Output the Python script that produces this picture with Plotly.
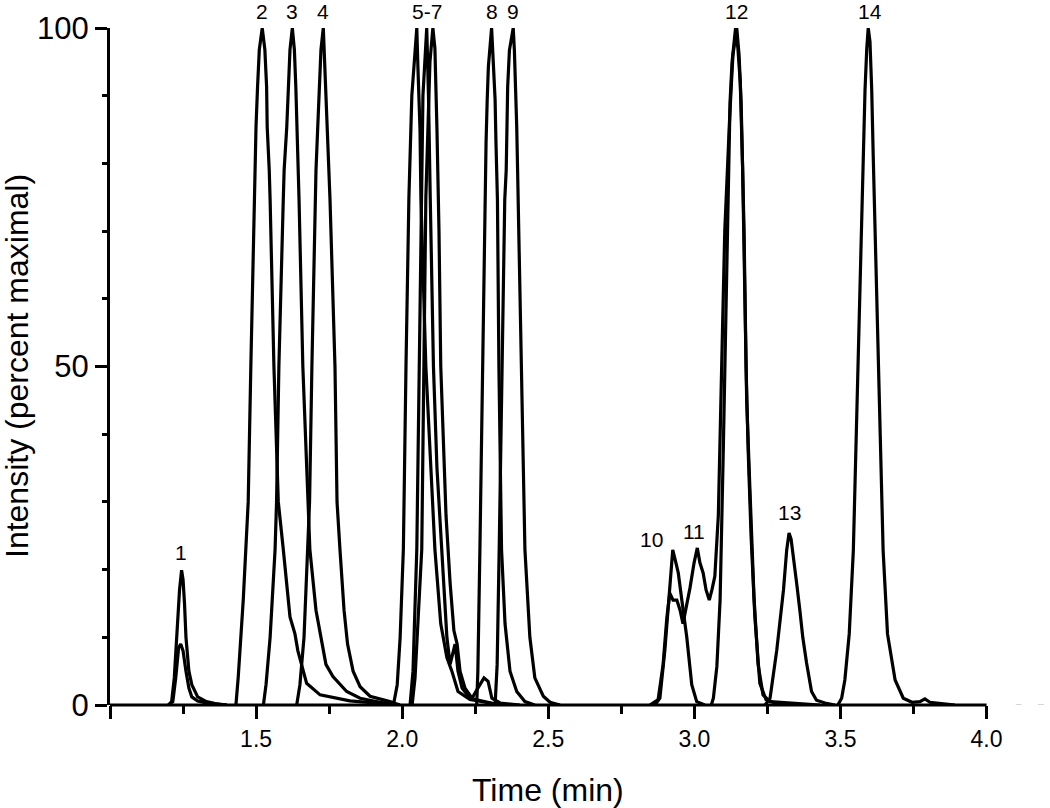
"""
overlaid extracted-ion chromatograms, peaks 1-14
"""
import plotly.graph_objects as go

# retention time (min) / intensity (percent maximal)
t_1a = [1.20, 1.211, 1.22, 1.228, 1.238, 1.245, 1.25, 1.255, 1.26, 1.27, 1.28, 1.30, 1.33, 1.36, 1.40]
i_1a = [0, 0.5, 4, 10.6, 17, 19.9, 18.5, 15, 10, 5, 3, 1.2, 0.5, 0.2, 0]
t_1b = [1.20, 1.215, 1.225, 1.235, 1.242, 1.25, 1.26, 1.27, 1.28, 1.30, 1.34, 1.40]
i_1b = [0, 0.5, 4, 8.5, 9, 8, 5, 2.5, 1.2, 0.6, 0.2, 0]

t_2 = [1.431, 1.439, 1.456, 1.473, 1.482, 1.493, 1.4997, 1.505, 1.511, 1.521,
       1.530, 1.536, 1.538, 1.545, 1.548, 1.561, 1.576, 1.593, 1.616, 1.633,
       1.643, 1.673, 1.719, 1.821, 1.924, 1.99]
i_2 = [0, 4.2, 15.5, 30, 50, 74.6, 85.4, 91.3, 96.8, 100,
       96.8, 91.3, 85.4, 79, 74.6, 50, 30, 23, 13, 10.5,
       8, 3.2, 1.5, 0.6, 0.2, 0]

t_3 = [1.525, 1.534, 1.548, 1.565, 1.570, 1.578, 1.593, 1.596, 1.605, 1.610, 1.616, 1.624,
       1.631, 1.636, 1.639, 1.644, 1.647, 1.660, 1.679, 1.684, 1.705, 1.724, 1.739,
       1.763, 1.810, 1.856, 1.924, 1.992]
i_3 = [0, 3, 10, 23, 30, 50, 74.6, 79, 85.4, 91.3, 96.8, 100,
       96.8, 91.3, 85.4, 79, 74.6, 50, 30, 23, 14, 9.6, 6,
       4.2, 2, 1, 0.4, 0]

t_4 = [1.639, 1.650, 1.664, 1.678, 1.683, 1.691, 1.702, 1.705, 1.711, 1.716, 1.722, 1.730,
       1.733, 1.739, 1.743, 1.749, 1.753, 1.770, 1.777, 1.787, 1.801, 1.813, 1.832,
       1.856, 1.890, 1.958, 1.992]
i_4 = [0, 3, 10, 23, 30, 50, 74.6, 79, 85.4, 91.3, 96.8, 100,
       96.8, 91.3, 85.4, 79, 74.6, 50, 30, 23, 14, 9, 5,
       2.7, 1.3, 0.5, 0]

t_5 = [1.970, 1.983, 1.993, 2.004, 2.013, 2.023, 2.033, 2.050, 2.054, 2.061,
       2.064, 2.081, 2.112, 2.132, 2.153, 2.170, 2.191, 2.232, 2.300, 2.335]
i_5 = [0, 3, 10, 23, 50, 75, 90, 100, 94, 85,
       75, 50, 23, 12, 7, 5, 2, 0.8, 0.3, 0]

t_6 = [2.027, 2.037, 2.050, 2.058, 2.064, 2.071, 2.084, 2.090, 2.096, 2.107,
       2.119, 2.136, 2.153, 2.164, 2.181, 2.191, 2.205, 2.232, 2.283, 2.335]
i_6 = [0, 5, 23, 50, 75, 90, 100, 90, 75, 50,
       35, 23, 10, 6, 9, 5, 2.5, 1, 0.5, 0]

t_7 = [2.034, 2.044, 2.067, 2.075, 2.081, 2.088, 2.095, 2.105, 2.112, 2.119, 2.126,
       2.132, 2.150, 2.164, 2.177, 2.188, 2.198, 2.215, 2.239, 2.259, 2.280,
       2.294, 2.307, 2.335, 2.403]
i_7 = [0, 4, 23, 50, 75, 85, 95, 100, 97, 85, 70,
       50, 28, 18, 11, 9, 5, 2.5, 1, 2.5, 4,
       3.5, 1, 0.3, 0]

t_8 = [2.255, 2.259, 2.266, 2.275, 2.283, 2.287, 2.291, 2.295, 2.306,
       2.312, 2.318, 2.321, 2.326, 2.331, 2.340, 2.352, 2.369, 2.392, 2.420, 2.454]
i_8 = [0, 5, 23, 50, 74.6, 83, 89.4, 94.3, 100,
       94.3, 89.4, 83, 74.6, 50, 23, 12, 5, 2, 0.5, 0]

t_9 = [2.318, 2.325, 2.332, 2.342, 2.351, 2.356, 2.358, 2.361, 2.367, 2.380,
       2.384, 2.389, 2.392, 2.395, 2.397, 2.406, 2.420, 2.437, 2.454, 2.483, 2.506, 2.540]
i_9 = [0, 6, 23, 50, 74.6, 79, 85.4, 91.3, 96.7, 100,
       96.7, 91.3, 85.4, 79, 74.6, 50, 23, 10, 4, 1.3, 0.4, 0]

t_10 = [2.865, 2.882, 2.899, 2.910, 2.916, 2.926, 2.934, 2.945, 2.957, 2.974, 2.991, 3.008, 3.036]
i_10 = [0, 1, 8.1, 14, 17, 22.9, 21.5, 19.5, 15.5, 10, 3, 0.5, 0]

# shoulder trace: 10 (minor), 11, then runs up into 12
t_11 = [2.848, 2.876, 2.893, 2.906, 2.916, 2.927, 2.940, 2.951, 2.961, 2.971, 2.985,
        2.999, 3.010, 3.019, 3.030, 3.040, 3.051, 3.060, 3.070, 3.082, 3.088, 3.096,
        3.104, 3.111, 3.120, 3.127, 3.132, 3.145, 3.153, 3.160, 3.165, 3.170, 3.177,
        3.184, 3.194, 3.207, 3.224, 3.245, 3.276, 3.327]
i_11 = [0, 0.8, 6, 13, 16.5, 15.5, 15.5, 14, 12, 14, 17.3,
        21, 23.2, 21, 19.5, 17, 15.5, 17, 19, 28, 37.7, 55,
        70, 78, 86, 92, 96, 100, 96, 89, 80, 70, 50,
        37.7, 25, 13, 3.2, 0.8, 0.3, 0]

t_12 = [3.058, 3.065, 3.077, 3.088, 3.099, 3.108, 3.116, 3.122, 3.129, 3.141,
        3.149, 3.157, 3.165, 3.170, 3.179, 3.190, 3.204, 3.218, 3.235, 3.259, 3.327, 3.430]
i_12 = [0, 1, 5.7, 15.5, 37.7, 60, 79.5, 89, 95, 100,
        97, 92, 79.5, 68, 45, 32, 16, 6, 1.5, 0.5, 0.3, 0]

t_13 = [3.242, 3.259, 3.282, 3.293, 3.305, 3.316, 3.324, 3.331, 3.339, 3.350,
        3.361, 3.371, 3.384, 3.401, 3.418, 3.447, 3.481]
i_13 = [0, 1, 8.1, 12, 17, 22.9, 25.4, 24.5, 22, 18,
        14, 10, 6.2, 2, 0.7, 0.3, 0]

t_14 = [3.491, 3.504, 3.515, 3.530, 3.544, 3.552, 3.561, 3.569, 3.576, 3.584, 3.590, 3.595,
        3.601, 3.607, 3.612, 3.620, 3.627, 3.637, 3.646, 3.661, 3.687, 3.715,
        3.745, 3.772, 3.789, 3.806, 3.858, 3.892]
i_14 = [0, 1, 3.7, 10.5, 22.8, 36.4, 52.7, 67.7, 81.3, 90.8, 97, 100,
        98, 90.8, 81.3, 67.7, 52.7, 36.4, 22.8, 10.5, 3.7, 1,
        0.4, 0.5, 0.9, 0.4, 0.2, 0]

# faint grey remnant past the end of the axis
t_tail = [4.10, 4.13, 4.17, 4.20]
i_tail = [0, 0, 0, 0]

traces = [(t_1a, i_1a), (t_1b, i_1b), (t_2, i_2), (t_3, i_3), (t_4, i_4),
          (t_5, i_5), (t_6, i_6), (t_7, i_7), (t_8, i_8), (t_9, i_9),
          (t_10, i_10), (t_11, i_11), (t_12, i_12), (t_13, i_13), (t_14, i_14)]

# peak labels
top_labels = ["2", "3", "4", "5-7", "8", "9", "12", "14"]
top_label_t = [1.521, 1.624, 1.730, 2.084, 2.306, 2.380, 3.145, 3.601]
low_labels = ["1", "10", "11", "13"]
low_label_t = [1.243, 2.854, 2.999, 3.327]
low_label_i = [22.6, 24.4, 25.7, 28.4]

x_tickvals = [1.0, 1.5, 2.0, 2.5, 3.0, 3.5, 4.0]
x_ticktext = ["", "1.5", "2.0", "2.5", "3.0", "3.5", "4.0"]

FONT = "Liberation Sans, Arial, sans-serif"

fig = go.Figure()
fig.add_trace(go.Scatter(x=t_tail, y=i_tail, mode="lines",
                         line=dict(color="#c8c8c8", width=1.5, dash="6px,16px"),
                         showlegend=False, hoverinfo="skip"))
for t, i in traces:
    fig.add_trace(go.Scatter(x=t, y=i, mode="lines",
                             line=dict(color="black", width=3.2),
                             showlegend=False, hoverinfo="skip"))

annotations = []
for lab, t in zip(top_labels, top_label_t):
    annotations.append(dict(x=t, y=100, xref="x", yref="y", text=lab, showarrow=False,
                            yanchor="bottom", yshift=3, font=dict(size=21, color="black", family=FONT)))
for lab, t, i in zip(low_labels, low_label_t, low_label_i):
    annotations.append(dict(x=t, y=i, xref="x", yref="y", text=lab, showarrow=False,
                            yanchor="middle", font=dict(size=21, color="black", family=FONT)))

# axis titles
annotations.append(dict(x=2.5, xref="x", y=-0.125, yref="paper", text="Time (min)",
                        showarrow=False, yanchor="middle",
                        font=dict(size=32, color="black", family=FONT)))
annotations.append(dict(x=-0.1, xref="paper", y=50, yref="y", text="Intensity (percent maximal)",
                        showarrow=False, textangle=-90, xanchor="center", yanchor="middle",
                        font=dict(size=32, color="black", family=FONT)))

fig.update_layout(
    width=1050, height=808,
    margin=dict(l=110, r=5, t=28, b=103),
    paper_bgcolor="white", plot_bgcolor="white",
    font=dict(family=FONT, color="black"),
    annotations=annotations,
    shapes=[dict(type="line", xref="x", yref="paper", x0=1.0, x1=4.0, y0=0, y1=0,
                 line=dict(color="black", width=3))],
)

fig.update_xaxes(range=[1.0, 4.2], showgrid=False, zeroline=False, showline=False,
                 tickmode="array", tickvals=x_tickvals, ticktext=x_ticktext,
                 ticks="outside", ticklen=13, tickwidth=3, tickcolor="black",
                 tickfont=dict(size=23, color="black", family=FONT),
                 minor=dict(dtick=0.25, tick0=1.0, ticks="outside", ticklen=8,
                            tickwidth=3, tickcolor="black", showgrid=False))
fig.update_yaxes(range=[0, 100], showgrid=False, zeroline=False,
                 showline=True, linewidth=3, linecolor="black",
                 tick0=0, dtick=50, ticks="outside", ticklen=12, tickwidth=3, tickcolor="black",
                 tickfont=dict(size=31, color="black", family=FONT),
                 minor=dict(dtick=10, tick0=0, ticks="outside", ticklen=5,
                            tickwidth=3, tickcolor="black", showgrid=False))

# drop the page's default body margin so the 1050x808 figure sits at the origin
fig.write_html("out.html", config={"displayModeBar": False},
               post_script="document.body.style.margin = '0';")
